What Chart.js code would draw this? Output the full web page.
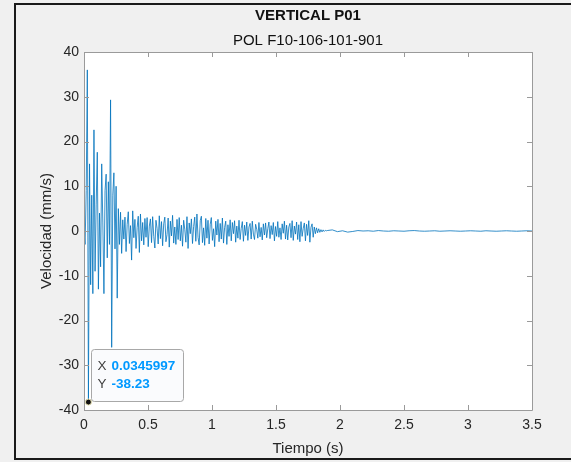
<!DOCTYPE html>
<html>
<head>
<meta charset="utf-8">
<title>VERTICAL P01</title>
<script src="https://cdn.jsdelivr.net/npm/chart.js@4.4.0/dist/chart.umd.min.js"></script>
<style>
html, body { margin: 0; padding: 0; background: #f0f0f0; }
#wrap { width: 571px; height: 462px; }
</style>
</head>
<body>
<div id="wrap"><canvas id="chart1" width="571" height="462"></canvas></div>
<script>
// velocity record (mm/s), one sample every dt seconds from t = 0
var dt = 0.00864993;
var velocity = [
    0, -3, 9, 36, -38.23, 15, -12, 8, -14, 22.6,
    -9, 6, 17.6, -13, 4, -8, 15, 2, -14, 9,
    12.7, -6, 11, -3, 29.3, -26, 8, 13, -4, 10,
    -15, 5, -3, 4.2, -5, 2.5, -1.8, 3.1, -4.6, 1.5,
    4.3, -2.8, 1.2, -6.5, 4.5, -1.5, 2.6, -3.9, 0.8, 3.3,
    -4.8, 3.8, -2.2, 1.9, -3.1, 2.8, -1.4, 3.0, -3.5, 1.1,
    2.7, -2.6, 3.2, -1.2, -3.8, 2.4, 0.6, -2.9, 3.4, -1.7,
    2.1, -3.3, 1.6, 3.1, -2.4, -0.8, 2.9, -3.6, 2.2, -1.1,
    3.5, -2.7, 0.9, -3.0, 2.6, -1.9, 3.0, -2.2, 1.3, -3.4,
    2.4, 0.4, -2.5, 3.2, -3.9, 1.8, -0.6, 2.7, -2.8, 1.0,
    3.1, -2.3, 3.8, -1.4, -3.1, 2.3, 3.3, -2.6, 0.7, -3.2,
    2.8, -1.6, 2.4, -2.9, 1.5, 3.0, -2.1, 0.5, -3.5, 2.2,
    -0.9, 2.6, -2.4, 1.7, -1.8, 2.9, -2.7, 0.8, 2.2, -3.0,
    1.4, -1.2, 2.5, -2.2, 1.9, -0.6, 2.3, -2.5, 1.1, -1.6,
    2.4, -1.9, 0.6, 2.1, -2.3, 1.3, -1.0, 2.0, -2.1, 0.9,
    1.7, -1.8, 2.2, -0.7, -1.9, 1.5, 0.4, -1.6, 1.9, -1.3,
    0.8, -2.0, 1.6, -0.9, 1.8, -1.5, 0.5, 2.0, -1.7, 1.2,
    -0.8, 1.9, -2.2, 1.0, -1.2, 2.1, -1.4, 0.7, -1.9, 1.6,
    -0.5, 2.2, -1.8, 1.3, -2.0, 0.9, 1.7, -1.5, 2.3, -2.1,
    1.1, -0.7, 2.0, -1.9, 1.4, -2.4, 2.1, -1.2, 0.6, 1.8,
    -2.2, 1.5, -1.0, 2.3, -2.5, 0.8, 1.6, -1.4, 0.9, -0.6,
    0.7, -0.4, 0.5, -0.3, 0.3, -0.2, 0.25, -0.1, 0.15, 0.05
];
// quiet part of the record, kept at a coarser step
var tailStart = 1.90;
var tailStep = 0.04;
var tailVelocity = [
    0.1, 0.25, -0.15, 0.05, -0.25, -0.1, 0.1, 0.0, 0.05, -0.05,
    0.1, 0.0, -0.05, 0.05, 0.0, -0.05, 0.05, 0.1, 0.0, -0.05,
    0.0, 0.05, -0.05, 0.0, 0.05, 0.0, -0.05, 0.0, 0.05, 0.0,
    -0.05, 0.05, 0.0, -0.05, 0.0, 0.05, 0.0, -0.05, 0.0, 0.05,
    0.0
];
var xTicks = [0, 0.5, 1, 1.5, 2, 2.5, 3, 3.5];
var yTicks = [-40, -30, -20, -10, 0, 10, 20, 30, 40];
// data tip
var tipX = 0.0345997;
var tipY = -38.23;

var points = [];
velocity.forEach(function (v, i) { points.push({ x: i * dt, y: v }); });
tailVelocity.forEach(function (v, i) { points.push({ x: tailStart + i * tailStep, y: v }); });

var fontFamily = '"Liberation Sans", Arial, sans-serif';
var axisGrey = '#9a9a9a';
var textColor = '#262626';

// MATLAB style figure: grey figure, white axes with a box and inward ticks, data tip
var matlabAxes = {
    id: 'matlabAxes',
    beforeDraw: function (chart) {
        var ctx = chart.ctx, a = chart.chartArea;
        ctx.save();
        ctx.fillStyle = '#f0f0f0';
        ctx.fillRect(0, 0, chart.width, chart.height);
        ctx.fillStyle = '#1a1a1a';
        ctx.fillRect(14, 3, chart.width - 14, 2);
        ctx.fillRect(14, 3, 2, 457);
        ctx.fillRect(14, 458, chart.width - 14, 2);
        ctx.fillStyle = '#ffffff';
        ctx.fillRect(a.left, a.top, a.right - a.left, a.bottom - a.top);
        ctx.restore();
    },
    afterDatasetsDraw: function (chart) {
        var ctx = chart.ctx, a = chart.chartArea;
        var xs = chart.scales.x, ys = chart.scales.y;
        ctx.save();
        ctx.strokeStyle = axisGrey;
        ctx.lineWidth = 1;
        ctx.beginPath();
        ctx.rect(Math.round(a.left) + 0.5, Math.round(a.top) + 0.5,
            Math.round(a.right - a.left), Math.round(a.bottom - a.top));
        xTicks.forEach(function (t) {
            var px = Math.round(xs.getPixelForValue(t)) + 0.5;
            ctx.moveTo(px, a.bottom); ctx.lineTo(px, a.bottom - 5);
            ctx.moveTo(px, a.top); ctx.lineTo(px, a.top + 5);
        });
        yTicks.forEach(function (t) {
            var py = Math.round(ys.getPixelForValue(t)) + 0.5;
            ctx.moveTo(a.left, py); ctx.lineTo(a.left + 5, py);
            ctx.moveTo(a.right, py); ctx.lineTo(a.right - 5, py);
        });
        ctx.stroke();

        // data tip box
        var px = xs.getPixelForValue(tipX), py = ys.getPixelForValue(tipY);
        var bx = Math.round(px + 3) + 0.5, by = Math.round(py - 53) + 0.5;
        var bw = 92, bh = 52;
        ctx.beginPath();
        ctx.roundRect(bx, by, bw, bh, 3);
        ctx.fillStyle = '#fafbfd';
        ctx.fill();
        ctx.strokeStyle = '#a8a8a8';
        ctx.stroke();
        ctx.textBaseline = 'middle';
        ctx.textAlign = 'left';
        ctx.font = '13.5px ' + fontFamily;
        ctx.fillStyle = '#404040';
        ctx.fillText('X', bx + 6, by + 17);
        ctx.fillText('Y', bx + 6, by + 35);
        ctx.font = 'bold 13.5px ' + fontFamily;
        ctx.fillStyle = '#0099ff';
        ctx.fillText(String(tipX), bx + 20, by + 17);
        ctx.fillText(String(tipY), bx + 20, by + 35);
        ctx.restore();
    }
};

var ctx1 = document.getElementById('chart1');
var chart1 = new Chart(ctx1.getContext('2d'), {
    type: 'line',
    data: {
        datasets: [{
            label: 'tip',
            data: [{ x: tipX, y: tipY }],
            showLine: false,
            pointRadius: 3,
            pointBackgroundColor: '#111111',
            pointBorderColor: '#e8e2b0',
            pointBorderWidth: 1
        }, {
            label: 'Velocidad',
            data: points,
            borderColor: '#0072BD',
            borderWidth: 0.8,
            pointRadius: 0,
            tension: 0,
            fill: false
        }]
    },
    options: {
        responsive: false,
        animation: false,
        parsing: false,
        normalized: true,
        layout: { padding: { left: 0, top: 2, right: 39, bottom: 0 } },
        plugins: {
            legend: { display: false },
            tooltip: { enabled: false },
            title: {
                display: true,
                fullSize: false,
                text: 'VERTICAL P01',
                color: '#111111',
                font: { family: fontFamily, size: 15, weight: 'bold' },
                padding: { top: 5, bottom: 3 }
            },
            subtitle: {
                display: true,
                fullSize: false,
                text: 'POL F10-106-101-901',
                color: '#111111',
                font: { family: fontFamily, size: 15, weight: 'normal' },
                padding: { top: 4, bottom: 2 }
            }
        },
        scales: {
            x: {
                type: 'linear',
                min: 0,
                max: 3.5,
                afterBuildTicks: function (scale) {
                    scale.ticks = xTicks.map(function (v) { return { value: v }; });
                },
                afterFit: function (scale) { scale.height = 52; },
                grid: { display: false, drawTicks: false },
                border: { display: false },
                ticks: {
                    autoSkip: false,
                    maxRotation: 0,
                    padding: 7,
                    color: textColor,
                    font: { family: fontFamily, size: 14 },
                    callback: function (v) { return String(v); }
                },
                title: {
                    display: true,
                    text: 'Tiempo (s)',
                    color: textColor,
                    font: { family: fontFamily, size: 15 },
                    padding: { top: 0, bottom: 4 }
                }
            },
            y: {
                type: 'linear',
                min: -40,
                max: 40,
                afterBuildTicks: function (scale) {
                    scale.ticks = yTicks.map(function (v) { return { value: v }; });
                },
                afterFit: function (scale) { scale.width = 84; },
                grid: { display: false, drawTicks: false },
                border: { display: false },
                ticks: {
                    autoSkip: false,
                    padding: 5,
                    color: textColor,
                    font: { family: fontFamily, size: 14 },
                    callback: function (v) { return String(v); }
                },
                title: {
                    display: true,
                    text: 'Velocidad (mm/s)',
                    color: textColor,
                    font: { family: fontFamily, size: 15 },
                    padding: { top: 38, bottom: 0 }
                }
            }
        }
    },
    plugins: [matlabAxes]
});
</script>
</body>
</html>
